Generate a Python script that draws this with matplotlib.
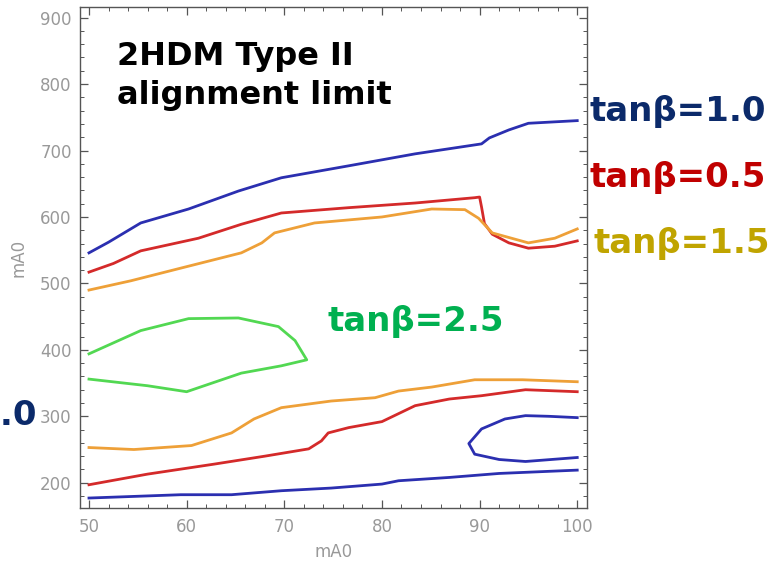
import matplotlib
matplotlib.use("Agg")
import matplotlib.pyplot as plt
from matplotlib.ticker import MultipleLocator

# ---- data (mA0 vs mA0 contour lines) ----
tb10_upper_x = [50, 52, 55.3, 60.2, 65.3, 69.7, 76.6, 83.4, 90.2, 91, 93, 95, 97.5, 100]
tb10_upper_y = [546, 562, 591, 612, 639, 659, 677, 695, 710, 719, 731, 741, 743, 745]

tb05_upper_x = [50, 52.5, 55.3, 61.2, 65.6, 69.7, 76.6, 83.4, 89.5, 90.0, 90.2, 90.5, 91.3, 93, 95, 97.7, 100]
tb05_upper_y = [517, 530, 549, 568, 589, 606, 614, 621, 629, 630, 615, 590, 574, 561, 553, 556, 564]

tb15_upper_x = [50, 54.3, 59.4, 65.6, 67.7, 69, 73.1, 80, 85.1, 88.5, 89.9, 91.3, 95, 97.7, 100]
tb15_upper_y = [490, 504, 523, 546, 561, 576, 591, 600, 612, 611, 598, 576, 561, 568, 582]

tb25_loop_x = [50, 55.3, 60.2, 65.3, 69.4, 71.1, 72.3, 69.7, 65.6, 60, 56, 50]
tb25_loop_y = [394, 429, 447, 448, 435, 414, 385, 376, 365, 337, 346, 356]

tb15_lower_x = [50, 54.6, 60.5, 64.6, 66.9, 69.7, 74.8, 79.3, 81.7, 85.1, 89.5, 94.4, 100]
tb15_lower_y = [253, 250, 256, 275, 296, 313, 323, 328, 338, 344, 355, 355, 352]

tb05_lower_x = [50, 56, 62.8, 68, 72.5, 73.8, 74.5, 76.6, 80, 83.4, 86.9, 90.2, 94.7, 100]
tb05_lower_y = [197, 213, 228, 240, 251, 263, 275, 283, 292, 316, 326, 331, 340, 337]

tb10_lower_x = [50, 59.4, 64.6, 69.7, 74.8, 80, 81.7, 86.9, 92, 100]
tb10_lower_y = [177, 182, 182, 188, 192, 198, 203, 208, 214, 219]

tb10_loop_x = [100, 97.1, 94.7, 92.6, 90.2, 88.9, 89.5, 92, 94.7, 100]
tb10_loop_y = [298, 300, 301, 296, 281, 259, 243, 235, 232, 238]

x_ticks = [50, 60, 70, 80, 90, 100]
y_ticks = [200, 300, 400, 500, 600, 700, 800, 900]

# ---- styling ----
BLUE = "#2b2fb0"
RED = "#d42a2a"
ORANGE = "#eea038"
GREEN = "#52d852"
LW = 2.0

W, H = 775, 562
fig = plt.figure(figsize=(W / 100, H / 100), dpi=100)
ax = fig.add_axes([80 / W, 1 - 508 / H, (587 - 80) / W, (508 - 7) / H])

ax.plot(tb10_upper_x, tb10_upper_y, color=BLUE, lw=LW)
ax.plot(tb05_upper_x, tb05_upper_y, color=RED, lw=LW)
ax.plot(tb15_upper_x, tb15_upper_y, color=ORANGE, lw=LW)
ax.plot(tb25_loop_x, tb25_loop_y, color=GREEN, lw=LW)
ax.plot(tb15_lower_x, tb15_lower_y, color=ORANGE, lw=LW)
ax.plot(tb05_lower_x, tb05_lower_y, color=RED, lw=LW)
ax.plot(tb10_lower_x, tb10_lower_y, color=BLUE, lw=LW)
ax.plot(tb10_loop_x, tb10_loop_y, color=BLUE, lw=LW)

ax.set_xlim(49.08, 101.0)
ax.set_ylim(162, 916)
ax.set_xticks(x_ticks)
ax.set_yticks(y_ticks)
ax.xaxis.set_minor_locator(MultipleLocator(2))
ax.yaxis.set_minor_locator(MultipleLocator(20))
ax.tick_params(which="both", direction="in", top=True, right=True,
               color="#555555", labelcolor="#999999", labelsize=12)
ax.tick_params(which="major", length=6, width=0.9)
ax.tick_params(which="minor", length=3, width=0.7)
ax.tick_params(axis="x", which="major", pad=7)
ax.tick_params(axis="y", which="major", pad=6)
for s in ax.spines.values():
    s.set_color("#555555")
    s.set_linewidth(1.0)
ax.set_xlabel("mA0", color="#999999", fontsize=12, labelpad=5)
ax.set_ylabel("mA0", color="#999999", fontsize=12, labelpad=9)

FAM = ["DejaVu Sans"]

def ftext(px, py, s, color, fs=24.5, ha="left", **kw):
    fig.text(px / W, 1 - py / H, s, color=color, ha=ha, va="center",
             fontsize=fs, fontweight="bold", family=FAM, **kw)

ftext(117, 76, "2HDM Type II\nalignment limit", "black", fs=23, linespacing=1.35)
ftext(590, 112, "tanβ=1.0", "#0b2a6a")
ftext(590, 178, "tanβ=0.5", "#c00000")
ftext(594, 243, "tanβ=1.5", "#c0a400")
ftext(328, 322, "tanβ=2.5", "#00b050")
ftext(37, 415, "tanβ=1.0", "#0b2a6a", ha="right")

fig.savefig("out.png", dpi=100)
